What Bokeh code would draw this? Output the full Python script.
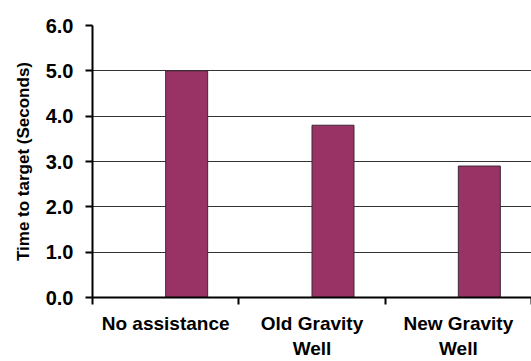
from bokeh.plotting import figure
from bokeh.models import (Range1d, LinearAxis, FixedTicker, NumeralTickFormatter,
                          ColumnDataSource, Grid)
from bokeh.transform import dodge
from bokeh.embed import file_html
from bokeh.resources import INLINE

categories = ["No assistance", "Old Gravity\nWell", "New Gravity\nWell"]
times = [5.0, 3.8, 2.9]
y_ticks = [0, 1, 2, 3, 4, 5, 6]

FONT = "Liberation Sans"

# category centres in axis units (one unit per category)
centers = [i + 0.5 for i in range(len(categories))]
boundaries = list(range(len(categories) + 1))

src = ColumnDataSource(dict(pos=centers, cat=categories, t=times))

p = figure(width=531, height=361, x_range=Range1d(0, len(categories)),
           y_range=Range1d(0, 6), output_backend="svg", toolbar_location=None,
           x_axis_type=None, y_axis_type=None,
           min_border_left=92, min_border_top=25, min_border_right=0,
           min_border_bottom=62)
p.outline_line_color = None
p.background_fill_color = "white"
p.border_fill_color = "white"

# y axis
yaxis = LinearAxis(ticker=FixedTicker(ticks=y_ticks),
                   formatter=NumeralTickFormatter(format="0.0"),
                   axis_label="Time to target (Seconds)")
yaxis.axis_line_width = 2
yaxis.axis_line_color = "black"
yaxis.major_tick_out = 7
yaxis.major_tick_in = 0
yaxis.major_tick_line_width = 2
yaxis.minor_tick_line_color = None
yaxis.major_label_standoff = 12
yaxis.major_label_text_font = FONT
yaxis.major_label_text_font_style = "bold"
yaxis.major_label_text_font_size = "20px"
yaxis.major_label_text_color = "black"
yaxis.axis_label_text_font = FONT
yaxis.axis_label_text_font_style = "bold"
yaxis.axis_label_text_font_size = "17px"
yaxis.axis_label_text_color = "black"
yaxis.axis_label_standoff = 10
p.add_layout(yaxis, "left")

grid = Grid(dimension=1, ticker=yaxis.ticker, grid_line_color="#333333",
            grid_line_width=1)
p.add_layout(grid)

# category axis: labels at category centres, tick marks at category boundaries
xaxis = LinearAxis(ticker=FixedTicker(ticks=centers, minor_ticks=boundaries),
                   major_label_overrides={c: lab for c, lab in zip(centers, categories)})
xaxis.axis_line_width = 2
xaxis.axis_line_color = "black"
xaxis.major_tick_out = 7
xaxis.major_tick_in = 0
xaxis.major_tick_line_color = None
xaxis.minor_tick_out = 7
xaxis.minor_tick_in = 0
xaxis.minor_tick_line_width = 2
xaxis.minor_tick_line_color = "black"
xaxis.major_label_standoff = 8
xaxis.major_label_text_font = FONT
xaxis.major_label_text_font_style = "bold"
xaxis.major_label_text_font_size = "19px"
xaxis.major_label_text_color = "black"
p.add_layout(xaxis, "below")

p.vbar(x=dodge("pos", 0.1435), top="t", width=0.287,
       source=src, fill_color="#993366", line_color="#3a2a33", line_width=1)

open("out.html", "w").write(file_html(p, INLINE))
